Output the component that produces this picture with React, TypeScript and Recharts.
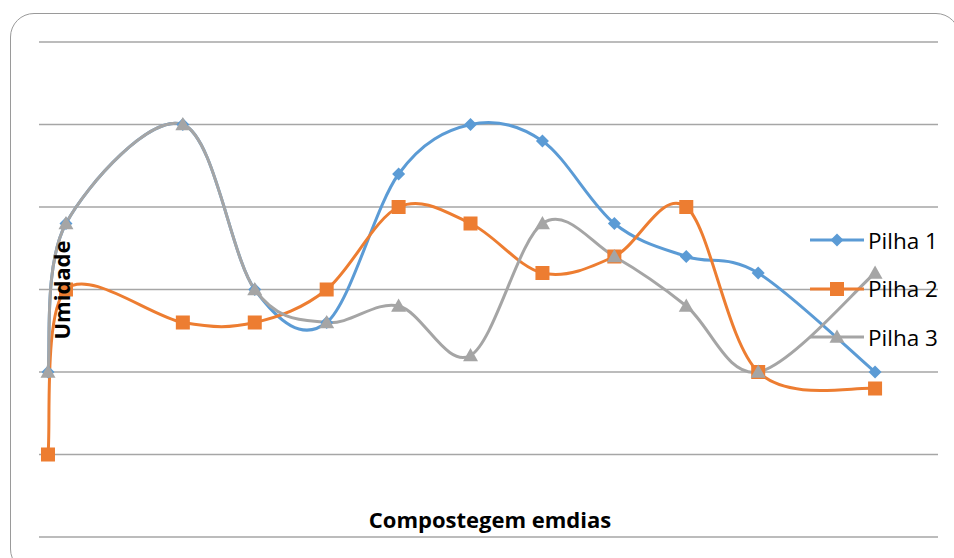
import React from 'react';
import { LineChart, Line, XAxis, YAxis, CartesianGrid, Legend } from 'recharts';

// dias de compostagem (eixo x) e umidade de cada pilha
const days = [1, 3, 16, 24, 32, 40, 48, 56, 64, 72, 80, 93];
const pilha1 = [20, 38, 50, 30, 26, 44, 50, 48, 38, 34, 32, 20];
const pilha2 = [10, 30, 26, 26, 30, 40, 38, 32, 34, 40, 20, 18];
const pilha3 = [20, 38, 50, 30, 26, 28, 22, 38, 34, 28, 20, 32];
const yTicks = [0, 10, 20, 30, 40, 50, 60];

const data = days.map((d, i) => ({ dia: d, p1: pilha1[i], p2: pilha2[i], p3: pilha3[i] }));

const BLUE = '#5b9bd5';
const ORANGE = '#ed7d31';
const GRAY = '#a5a5a5';

// suavização parecida com a do Excel (Catmull-Rom)
const excelSmooth = (context: any) => {
  let pts: number[][] = [];
  return {
    areaStart() {},
    areaEnd() {},
    lineStart() {
      pts = [];
    },
    point(x: number, y: number) {
      pts.push([+x, +y]);
    },
    lineEnd() {
      const n = pts.length;
      if (!n) return;
      context.moveTo(pts[0][0], pts[0][1]);
      for (let i = 0; i < n - 1; i++) {
        const p0 = pts[Math.max(i - 1, 0)];
        const p1 = pts[i];
        const p2 = pts[i + 1];
        const p3 = pts[Math.min(i + 2, n - 1)];
        context.bezierCurveTo(
          p1[0] + (p2[0] - p0[0]) / 6,
          p1[1] + (p2[1] - p0[1]) / 6,
          p2[0] - (p3[0] - p1[0]) / 6,
          p2[1] - (p3[1] - p1[1]) / 6,
          p2[0],
          p2[1]
        );
      }
    },
  };
};

const Marker = ({ kind, cx, cy, color }: { kind: string; cx: number; cy: number; color: string }) => {
  if (kind === 'diamond') {
    const r = 6.5;
    return <path d={`M${cx},${cy - r}L${cx + r},${cy}L${cx},${cy + r}L${cx - r},${cy}Z`} fill={color} />;
  }
  if (kind === 'square') {
    const r = 7;
    return <rect x={cx - r} y={cy - r} width={2 * r} height={2 * r} fill={color} />;
  }
  const r = 7.5;
  return <path d={`M${cx},${cy - r}L${cx + r},${cy + r * 0.75}L${cx - r},${cy + r * 0.75}Z`} fill={color} />;
};

const dotFor = (kind: string, color: string) => (props: any) =>
  <Marker key={`${kind}-${props.index}`} kind={kind} cx={props.cx} cy={props.cy} color={color} />;

const series = [
  { key: 'p1', name: 'Pilha 1', color: BLUE, kind: 'diamond' },
  { key: 'p2', name: 'Pilha 2', color: ORANGE, kind: 'square' },
  { key: 'p3', name: 'Pilha 3', color: GRAY, kind: 'triangle' },
];

const LegendBox = () => (
  <div>
    {series.map((s) => (
      <div key={s.key} style={{ display: 'flex', alignItems: 'center', height: 48.5 }}>
        <svg width={58} height={20}>
          <line x1={2} x2={56} y1={10} y2={10} stroke={s.color} strokeWidth={3} />
          <Marker kind={s.kind} cx={29} cy={10} color={s.color} />
        </svg>
        <span style={{ fontFamily: 'Open Sans, sans-serif', fontSize: 22.5, color: '#000', marginLeft: 2 }}>
          {s.name}
        </span>
      </div>
    ))}
  </div>
);

const titleStyle: React.CSSProperties = {
  position: 'absolute',
  fontFamily: 'Open Sans, sans-serif',
  fontWeight: 700,
  fontSize: 22,
  color: '#000',
  whiteSpace: 'nowrap',
};

export default function App() {
  return (
    <div style={{ position: 'absolute', left: 0, top: 0, width: 954, height: 558, background: '#fff', overflow: 'hidden' }}>
      <div
        style={{
          position: 'absolute',
          left: 10,
          top: 13,
          width: 950,
          height: 560,
          border: '1px solid #9a9a9a',
          borderRadius: 24,
          boxSizing: 'border-box',
        }}
      />
      <LineChart width={954} height={558} data={data} margin={{ top: 42, right: 16, bottom: 21, left: 39 }}>
        <CartesianGrid horizontal vertical={false} stroke="#a6a6a6" strokeWidth={1.3} />
        <XAxis dataKey="dia" type="number" domain={[0, 100]} height={0} tick={false} axisLine={false} tickLine={false} />
        <YAxis
          domain={[0, 60]}
          ticks={yTicks}
          width={0}
          tick={{ fill: 'none' }}
          tickFormatter={() => ''}
          axisLine={false}
          tickLine={false}
        />
        <Legend
          layout="horizontal"
          verticalAlign="middle"
          align="center"
          wrapperStyle={{ left: 808, top: 216, width: 146 }}
          content={() => <LegendBox />}
        />
        {series.map((s) => (
          <Line
            key={s.key}
            dataKey={s.key}
            name={s.name}
            type={excelSmooth as any}
            stroke={s.color}
            strokeWidth={3}
            dot={dotFor(s.kind, s.color)}
            activeDot={false}
            isAnimationActive={false}
          />
        ))}
      </LineChart>
      <div style={{ ...titleStyle, left: 61, top: 290, transform: 'translate(-50%, -50%) rotate(-90deg)' }}>
        Umidade
      </div>
      <div style={{ ...titleStyle, left: 490, top: 519, transform: 'translate(-50%, -50%)' }}>
        Compostegem emdias
      </div>
    </div>
  );
}
